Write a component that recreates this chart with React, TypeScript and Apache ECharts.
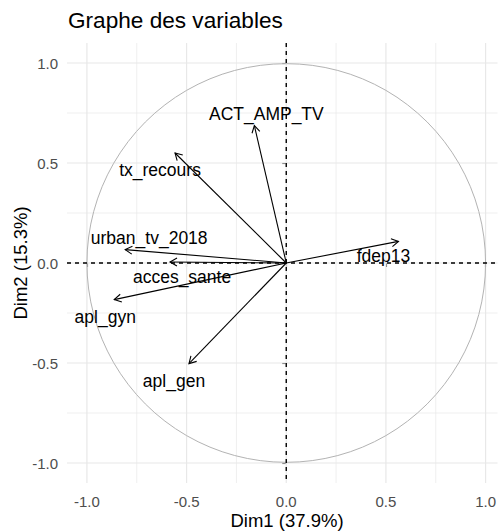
import React, { useEffect, useRef } from "react";
import * as echarts from "echarts";

const variables = ["ACT_AMP_TV", "tx_recours", "urban_tv_2018", "acces_sante", "apl_gyn", "apl_gen", "fdep13"];
const dim1 = [-0.16, -0.558, -0.808, -0.583, -0.863, -0.488, 0.563];
const dim2 = [0.687, 0.55, 0.067, 0.005, -0.183, -0.503, 0.108];
const tickValues = [-1, -0.5, 0, 0.5, 1];
const minorValues = [-0.75, -0.25, 0.25, 0.75];
const tickLabels = ["-1.0", "-0.5", "0.0", "0.5", "1.0"];

// pixel offsets of each variable label from its arrow tip (layout only)
const labelOffsets: number[][] = [
  [12, -12], [-15, 17], [24, -12], [12, 15], [-9, 17], [-15, 17], [-15, 15],
];

const FONT = "'Liberation Sans', Arial, Helvetica, sans-serif";

export default function App() {
  const ref = useRef<HTMLDivElement>(null);
  useEffect(() => {
    const chart = echarts.init(ref.current!, null, { renderer: "svg" });
    const fmt = (v: number) => {
      const i = tickValues.findIndex((t) => Math.abs(t - v) < 1e-9);
      return i >= 0 ? tickLabels[i] : "";
    };
    const gridData = [
      ...tickValues.map((v) => [v, 1]),
      ...minorValues.map((v) => [v, 0]),
    ];
    const gridRender = (orient: "v" | "h") => (params: any, api: any) => {
      const v = api.value(0);
      const major = api.value(1) === 1;
      const cs = params.coordSys;
      const style = { stroke: "#e8e8e8", lineWidth: major ? 1.2 : 0.7 };
      if (orient === "v") {
        const p = api.coord([v, 0]);
        return { type: "line", shape: { x1: p[0], y1: cs.y, x2: p[0], y2: cs.y + cs.height }, style };
      }
      const p = api.coord([0, v]);
      return { type: "line", shape: { x1: cs.x, y1: p[1], x2: cs.x + cs.width, y2: p[1] }, style };
    };

    const option: any = {
      animation: false,
      grid: { left: 67, right: 0, top: 43, bottom: 48, containLabel: false },
      xAxis: {
        type: "value",
        min: -1.1,
        max: 1.06,
        axisLine: { show: false },
        splitLine: { show: false },
        axisTick: { show: true, customValues: tickValues, length: 4, lineStyle: { color: "#333333", width: 1.1 } },
        axisLabel: { customValues: tickValues, formatter: fmt, color: "#4d4d4d", fontSize: 15, fontFamily: FONT, margin: 11 },
      },
      yAxis: {
        type: "value",
        min: -1.1,
        max: 1.1,
        axisLine: { show: false },
        splitLine: { show: false },
        axisTick: { show: true, customValues: tickValues, length: 4, lineStyle: { color: "#333333", width: 1.1 } },
        axisLabel: { customValues: tickValues, formatter: fmt, color: "#4d4d4d", fontSize: 15, fontFamily: FONT, margin: 9 },
      },
      series: [
        { type: "custom", silent: true, z: 1, data: gridData, renderItem: gridRender("v") },
        { type: "custom", silent: true, z: 1, data: gridData, renderItem: gridRender("h") },
        {
          type: "custom",
          silent: true,
          z: 2,
          data: [[0, 0]],
          renderItem: (params: any, api: any) => {
            const c = api.coord([0, 0]);
            const r = api.size([1, 1])[0];
            return { type: "circle", shape: { cx: c[0], cy: c[1], r }, style: { fill: "none", stroke: "#b3b3b3", lineWidth: 1 } };
          },
        },
        {
          type: "custom",
          silent: true,
          z: 3,
          data: [[0, 0]],
          renderItem: (params: any, api: any) => {
            const c = api.coord([0, 0]);
            const cs = params.coordSys;
            const style = { stroke: "#000", lineWidth: 1.4, lineDash: [4, 4] };
            return {
              type: "group",
              children: [
                { type: "line", shape: { x1: c[0], y1: cs.y, x2: c[0], y2: cs.y + cs.height }, style },
                { type: "line", shape: { x1: cs.x, y1: c[1], x2: cs.x + cs.width, y2: c[1] }, style },
              ],
            };
          },
        },
        {
          type: "custom",
          silent: true,
          z: 4,
          clip: false,
          data: variables.map((n, i) => [dim1[i], dim2[i], n]),
          renderItem: (params: any, api: any) => {
            const i = params.dataIndex;
            const o = api.coord([0, 0]);
            const e = api.coord([api.value(0), api.value(1)]);
            const ang = Math.atan2(e[1] - o[1], e[0] - o[0]);
            const L = 8;
            const a1 = ang + Math.PI - Math.PI / 6;
            const a2 = ang + Math.PI + Math.PI / 6;
            const off = labelOffsets[i];
            return {
              type: "group",
              children: [
                { type: "line", shape: { x1: o[0], y1: o[1], x2: e[0], y2: e[1] }, style: { stroke: "#000", lineWidth: 1.1 } },
                {
                  type: "polyline",
                  shape: { points: [[e[0] + L * Math.cos(a1), e[1] + L * Math.sin(a1)], [e[0], e[1]], [e[0] + L * Math.cos(a2), e[1] + L * Math.sin(a2)]] },
                  style: { stroke: "#000", lineWidth: 1.1, fill: "none" },
                },
                {
                  type: "text",
                  x: e[0] + off[0],
                  y: e[1] + off[1],
                  style: { text: variables[i], fill: "#000", fontSize: 17.5, fontFamily: FONT, align: "center", verticalAlign: "middle" },
                },
              ],
            };
          },
        },
      ],
      graphic: [
        { type: "text", left: 68, top: 9, style: { text: "Graphe des variables", fill: "#000", fontSize: 22.6, fontFamily: FONT } },
        { type: "text", x: 287, y: 520, style: { text: "Dim1 (37.9%)", fill: "#000", fontSize: 18.5, fontFamily: FONT, align: "center", verticalAlign: "middle" } },
        { type: "text", x: 20, y: 263, rotation: Math.PI / 2, style: { text: "Dim2 (15.3%)", fill: "#000", fontSize: 18.5, fontFamily: FONT, align: "center", verticalAlign: "middle" } },
      ],
    };
    chart.setOption(option);
    return () => chart.dispose();
  }, []);
  return <div ref={ref} style={{ position: "fixed", left: 0, top: 0, width: 499, height: 531, background: "#fff" }} />;
}
